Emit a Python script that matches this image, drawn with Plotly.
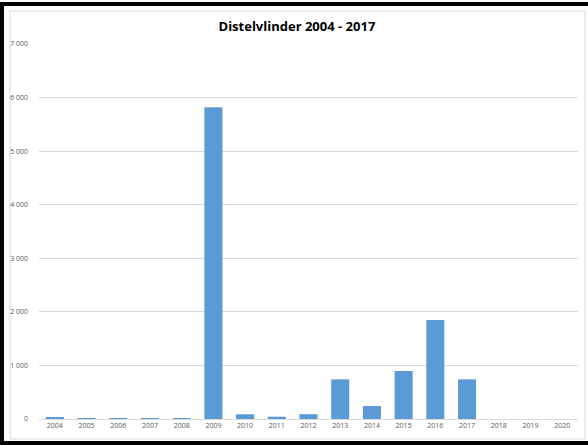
import plotly.graph_objects as go

years = [str(y) for y in range(2004, 2021)]
counts = [25, 5, 15, 5, 15, 5820, 88, 43, 90, 740, 243, 896, 1847, 740, 0, 0, 0]
y_ticks = [0, 1000, 2000, 3000, 4000, 5000, 6000, 7000]
y_labels = ["0", "1 000", "2 000", "3 000", "4 000", "5 000", "6 000", "7 000"]

W, H = 588, 445
L, R, T, B = 39, 10, 44, 26
pw, ph = W - L - R, H - T - B

def px(x):
    return (x - L) / pw

def py(y):
    return (H - B - y) / ph

fig = go.Figure()
fig.add_trace(go.Bar(
    x=years, y=counts,
    marker=dict(color="#5b9bd5", line=dict(width=0)),
))

shapes = [
    # light chart frame
    dict(type="rect", xref="paper", yref="paper",
         x0=px(10), x1=px(585), y0=py(439), y1=py(11),
         line=dict(color="#d9d9d9", width=1), layer="below"),
    # black outer border (left, top, bottom)
    dict(type="rect", xref="paper", yref="paper",
         x0=px(0), x1=px(4), y0=py(445), y1=py(2),
         fillcolor="black", line=dict(width=0)),
    dict(type="rect", xref="paper", yref="paper",
         x0=px(0), x1=px(588), y0=py(6), y1=py(2),
         fillcolor="black", line=dict(width=0)),
    dict(type="rect", xref="paper", yref="paper",
         x0=px(0), x1=px(588), y0=py(445), y1=py(441),
         fillcolor="black", line=dict(width=0)),
]

fig.update_layout(
    width=W, height=H,
    margin=dict(l=L, r=R, t=T, b=B),
    paper_bgcolor="white", plot_bgcolor="white",
    title=dict(text="<b>Distelvlinder 2004 - 2017</b>", x=0.505, xanchor="center",
               y=1 - 26 / H, yanchor="middle",
               font=dict(family="Open Sans", size=13, color="black")),
    bargap=0.43,
    showlegend=False,
    shapes=shapes,
    xaxis=dict(type="category", showgrid=False, showline=True, linecolor="#d9d9d9",
               ticks="", tickfont=dict(family="Open Sans", size=7, color="#595959"),
               fixedrange=True),
    yaxis=dict(range=[0, 7000], tickvals=y_ticks, ticktext=y_labels,
               showgrid=True, gridcolor="#d9d9d9", gridwidth=1, zeroline=False,
               ticks="", ticklabelstandoff=10,
               tickfont=dict(family="Open Sans", size=7, color="#595959")),
)

fig.write_html("out.html", config={"displayModeBar": False},
               post_script="document.body.style.margin='0';")
